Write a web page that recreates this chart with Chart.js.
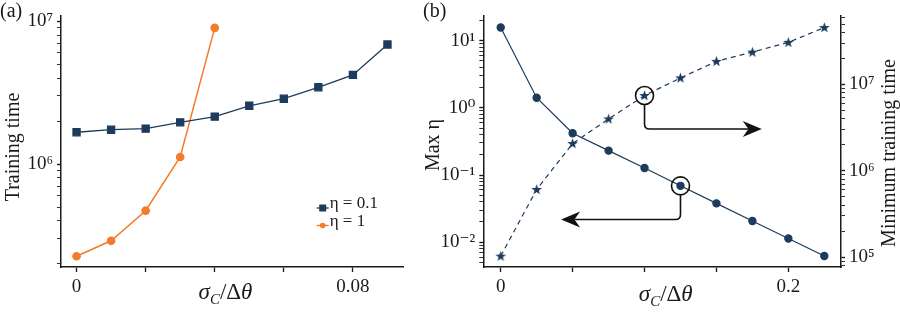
<!DOCTYPE html>
<html>
<head>
<meta charset="utf-8">
<script src="https://cdn.jsdelivr.net/npm/chart.js@4.4.1/dist/chart.umd.min.js"></script>
<style>
html, body { margin: 0; padding: 0; background: #fff; }
body { width: 900px; height: 317px; position: relative; overflow: hidden; }
#chartA { position: absolute; left: 0; top: 0; }
#chartB { position: absolute; left: 410px; top: 0; }
</style>
</head>
<body>
<canvas id="chartA" width="410" height="317"></canvas>
<canvas id="chartB" width="490" height="317"></canvas>
<script>
//* DATOS (a)
const sigmaA = [0, 0.01, 0.02, 0.03, 0.04, 0.05, 0.06, 0.07, 0.08, 0.09];
const timeEta01 = [1.67e6, 1.74e6, 1.77e6, 1.96e6, 2.15e6, 2.56e6, 2.87e6, 3.45e6, 4.21e6, 6.88e6];
const sigmaEta1 = [0, 0.01, 0.02, 0.03, 0.04];
const timeEta1 = [2.26e5, 2.90e5, 4.71e5, 1.12e6, 9.0e6];

//* DATOS (b)
const sigmaB = [0, 0.025, 0.05, 0.075, 0.1, 0.125, 0.15, 0.175, 0.2, 0.225];
const maxEta = [15.8, 1.42, 0.42, 0.231, 0.127, 0.069, 0.0378, 0.0206, 0.0113, 0.0062];
const minTime = [1.03e5, 6.08e5, 2.07e6, 3.99e6, 7.44e6, 1.19e7, 1.85e7, 2.37e7, 3.07e7, 4.56e7];

//* tick labels
const xLabelsA = [0, 0.08];
const yLabelsA = [1e6, 1e7];
const xLabelsB = [0, 0.2];
const yLabelsB = [1e-2, 1e-1, 1, 10];
const y2LabelsB = [1e5, 1e6, 1e7];

const navy = '#1d3b5c';
const orange = '#f47b2a';
const ink = '#1a1a1a';
const serif = '"Liberation Serif", "Times New Roman", Tinos, "DejaVu Serif", "Noto Serif", FreeSerif, Times, serif';

const SUP = { '0': '⁰', '1': '¹', '2': '²', '3': '³', '4': '⁴', '5': '⁵', '6': '⁶', '7': '⁷', '8': '⁸', '9': '⁹', '-': '⁻' };
const pow10 = v => '10' + String(Math.round(Math.log10(v))).split('').map(c => SUP[c]).join('');
const inList = (v, list) => list.some(l => Math.abs(v / l - 1) < 1e-6 || (l === 0 && Math.abs(v) < 1e-9));

function logTicks(scale) {
    const lo = Math.floor(Math.log10(scale.min));
    const hi = Math.ceil(Math.log10(scale.max));
    const t = [];
    for (let e = lo; e <= hi; e++) {
        for (let m = 1; m < 10; m++) {
            const v = m * Math.pow(10, e);
            if (v >= scale.min && v <= scale.max) t.push({ value: v });
        }
    }
    scale.ticks = t;
}

function logAxis(min, max, labels, position, width) {
    return {
        type: 'logarithmic',
        position,
        min, max,
        afterBuildTicks: logTicks,
        afterFit: s => { s.width = width; },
        border: { display: true, color: ink, width: 1.5 },
        grid: {
            drawOnChartArea: false, drawTicks: true, tickLength: 4, color: ink,
            tickWidth: c => (c.tick && inList(c.tick.value, labels)) ? 1.4 : 0.9
        },
        ticks: {
            autoSkip: false, padding: 4, color: ink,
            font: { family: serif, size: 19 },
            callback: v => inList(v, labels) ? pow10(v) : ''
        }
    };
}

function linAxis(min, max, step, labels) {
    return {
        type: 'linear',
        min, max,
        afterFit: s => { s.height = 50; },
        border: { display: true, color: ink, width: 1.5 },
        grid: { drawOnChartArea: false, drawTicks: true, tickLength: 5, color: ink, tickWidth: 1.3 },
        ticks: {
            stepSize: step, includeBounds: false, autoSkip: false, maxRotation: 0, padding: 4, color: ink,
            font: { family: serif, size: 19 },
            callback: v => inList(v, labels) ? String(v) : ''
        }
    };
}

function rotText(ctx, text, x, y) {
    ctx.save();
    ctx.translate(x, y);
    ctx.rotate(-Math.PI / 2);
    ctx.textAlign = 'center';
    ctx.textBaseline = 'middle';
    ctx.fillText(text, 0, 0);
    ctx.restore();
}

// sigma_C / Delta theta
function mathLabel(ctx, cx, base) {
    const parts = [
        { t: 'σ', f: 'italic 23px ' + serif, dy: 0 },
        { t: 'C', f: 'italic 15px ' + serif, dy: 5 },
        { t: '/', f: '23px ' + serif, dy: 0 },
        { t: 'Δ', f: '23px ' + serif, dy: 0 },
        { t: 'θ', f: 'italic 23px ' + serif, dy: 0 }
    ];
    let w = 0;
    parts.forEach(p => { ctx.font = p.f; p.w = ctx.measureText(p.t).width; w += p.w; });
    let x = cx - w / 2;
    ctx.textAlign = 'left';
    ctx.textBaseline = 'alphabetic';
    parts.forEach(p => { ctx.font = p.f; ctx.fillText(p.t, x, base + p.dy); x += p.w; });
}

const legendRows = [
    { label: 'η = 0.1', color: navy, style: 'rect' },
    { label: 'η = 1', color: orange, style: 'circle' }
];

const decorA = {
    id: 'decorA',
    afterDraw(chart) {
        const ctx = chart.ctx, a = chart.chartArea;
        ctx.save();
        ctx.fillStyle = ink;
        ctx.font = '20px ' + serif;
        ctx.textAlign = 'left';
        ctx.textBaseline = 'middle';
        ctx.fillText('(a)', 0, 12);
        rotText(ctx, 'Training time', 14, 147);
        mathLabel(ctx, a.left + a.width * 0.48, 299);
        // legend
        legendRows.forEach((r, i) => {
            const y = 208 + i * 17.5, x0 = a.right - 87;
            ctx.strokeStyle = r.color; ctx.fillStyle = r.color; ctx.lineWidth = 1.3;
            ctx.beginPath(); ctx.moveTo(x0, y); ctx.lineTo(x0 + 12, y); ctx.stroke();
            if (r.style === 'rect') ctx.fillRect(x0 + 2.5, y - 3.5, 7, 7);
            else { ctx.beginPath(); ctx.arc(x0 + 6, y, 2.8, 0, Math.PI * 2); ctx.fill(); }
            ctx.fillStyle = ink;
            ctx.font = '17px ' + serif;
            ctx.fillText(r.label, x0 + 13, y);
        });
        ctx.restore();
    }
};

new Chart(document.getElementById('chartA'), {
    type: 'line',
    data: {
        datasets: [{
            label: 'η = 0.1',
            data: sigmaA.map((x, i) => ({ x, y: timeEta01[i] })),
            borderColor: navy, backgroundColor: navy, borderWidth: 1.3,
            pointStyle: 'rect', pointRadius: 5, pointHoverRadius: 5
        }, {
            label: 'η = 1',
            data: sigmaEta1.map((x, i) => ({ x, y: timeEta1[i] })),
            borderColor: orange, backgroundColor: orange, borderWidth: 1.5,
            pointStyle: 'circle', pointRadius: 3.6, pointHoverRadius: 3.6
        }]
    },
    options: {
        responsive: false,
        animation: false,
        layout: { padding: { top: 10, right: 5, left: 0, bottom: 0 } },
        plugins: { legend: { display: false }, tooltip: { enabled: false } },
        scales: {
            x: linAxis(-0.0045, 0.0947, 0.02, xLabelsA),
            y: logAxis(1.9e5, 1.1e7, yLabelsA, 'left', 61)
        }
    },
    plugins: [decorA]
});

// star marker
const star = document.createElement('canvas');
star.width = 13; star.height = 13;
(function () {
    const c = star.getContext('2d');
    c.fillStyle = navy;
    c.beginPath();
    for (let k = 0; k < 10; k++) {
        const r = k % 2 === 0 ? 5.6 : 2.3;
        const ang = -Math.PI / 2 + k * Math.PI / 5;
        const px = 6.5 + r * Math.cos(ang), py = 6.8 + r * Math.sin(ang);
        k === 0 ? c.moveTo(px, py) : c.lineTo(px, py);
    }
    c.closePath();
    c.fill();
})();

// callouts: circle a point, arrow to its axis
const callouts = [
    { series: 1, idx: 4, bendY: 3.05e6, tipX: 0.1815 },
    { series: 0, idx: 5, bendY: 0.0217, tipX: 0.042 }
];

const decorB = {
    id: 'decorB',
    afterDatasetsDraw(chart) {
        const ctx = chart.ctx;
        ctx.save();
        ctx.strokeStyle = '#111'; ctx.fillStyle = '#111'; ctx.lineWidth = 1.6;
        callouts.forEach(c => {
            const meta = chart.getDatasetMeta(c.series);
            const ys = chart.scales[meta.yAxisID];
            const pt = meta.data[c.idx];
            const cx = pt.x, cy = pt.y;
            const by = ys.getPixelForValue(c.bendY);
            const tx = chart.scales.x.getPixelForValue(c.tipX);
            const dir = Math.sign(tx - cx);
            const r = 9, rc = 5, hl = 19, hw = 8;
            ctx.beginPath(); ctx.arc(cx, cy, r, 0, Math.PI * 2); ctx.stroke();
            ctx.beginPath();
            ctx.moveTo(cx, cy + r);
            ctx.lineTo(cx, by - rc);
            ctx.quadraticCurveTo(cx, by, cx + dir * rc, by);
            ctx.lineTo(tx - dir * hl * 0.7, by);
            ctx.stroke();
            ctx.beginPath();
            ctx.moveTo(tx, by);
            ctx.lineTo(tx - dir * hl, by - hw);
            ctx.lineTo(tx - dir * hl * 0.7, by);
            ctx.lineTo(tx - dir * hl, by + hw);
            ctx.closePath();
            ctx.fill();
        });
        ctx.restore();
    },
    afterDraw(chart) {
        const ctx = chart.ctx, a = chart.chartArea;
        ctx.save();
        ctx.fillStyle = ink;
        ctx.font = '20px ' + serif;
        ctx.textAlign = 'left';
        ctx.textBaseline = 'middle';
        ctx.fillText('(b)', 13, 12);
        rotText(ctx, 'Max η', 24, 145);
        rotText(ctx, 'Minimum training time', 480, 153);
        mathLabel(ctx, a.left + a.width * 0.51, 301);
        ctx.restore();
    }
};

new Chart(document.getElementById('chartB'), {
    type: 'line',
    data: {
        datasets: [{
            label: 'Max η',
            yAxisID: 'y',
            data: sigmaB.map((x, i) => ({ x, y: maxEta[i] })),
            borderColor: navy, backgroundColor: navy, borderWidth: 1.2,
            pointStyle: 'circle', pointRadius: 3.6, pointHoverRadius: 3.6
        }, {
            label: 'Minimum training time',
            yAxisID: 'y2',
            data: sigmaB.map((x, i) => ({ x, y: minTime[i] })),
            borderColor: navy, borderWidth: 1.2, borderDash: [5, 4],
            pointStyle: star, pointRadius: 5
        }]
    },
    options: {
        responsive: false,
        animation: false,
        layout: { padding: { top: 3, right: 0, left: 0, bottom: 0 } },
        plugins: { legend: { display: false }, tooltip: { enabled: false } },
        scales: {
            x: linAxis(-0.0121, 0.2366, 0.05, xLabelsB),
            y: logAxis(0.00426, 23.9, yLabelsB, 'left', 73.3),
            y2: logAxis(7.7e4, 6.3e7, y2LabelsB, 'right', 59)
        }
    },
    plugins: [decorB]
});
</script>
</body>
</html>
